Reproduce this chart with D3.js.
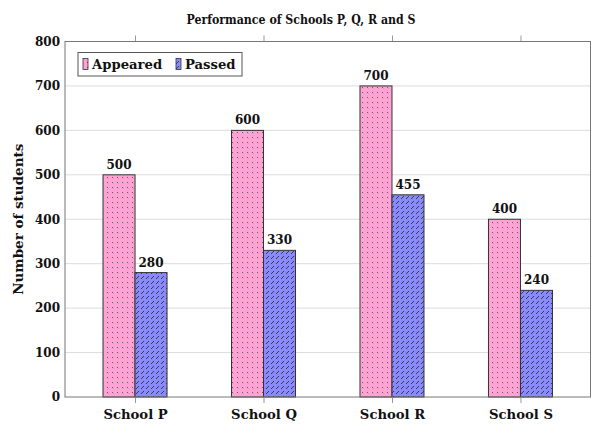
<!DOCTYPE html>
<html>
<head>
<meta charset="utf-8">
<script src="https://cdn.jsdelivr.net/npm/d3@7"></script>
<style>
  html, body { margin: 0; padding: 0; background: #fff; }
  svg { display: block; }
  text { font-family: "DejaVu Serif", serif; font-weight: bold; fill: #111; }
</style>
</head>
<body>
<div id="chart"></div>
<script>
const categories = ["School P", "School Q", "School R", "School S"];
const seriesNames = ["Appeared", "Passed"];
const appeared = [500, 600, 700, 400];
const passed = [280, 330, 455, 240];
const yTicks = [0, 100, 200, 300, 400, 500, 600, 700, 800];

const W = 600, H = 435;
const margin = { left: 65, right: 9.5, top: 41.5, bottom: 38 };

const svg = d3.select("#chart").append("svg").attr("width", W).attr("height", H);

const defs = svg.append("defs");
const p1 = defs.append("pattern").attr("id", "patA").attr("patternUnits", "userSpaceOnUse")
  .attr("width", 5).attr("height", 5);
p1.append("rect").attr("width", 5).attr("height", 5).attr("fill", "#ffa3d4");
p1.append("line").attr("x1", 2).attr("y1", 2).attr("x2", 3.2).attr("y2", 3.2)
  .attr("stroke", "#555").attr("stroke-width", 0.9);
const p2 = defs.append("pattern").attr("id", "patB").attr("patternUnits", "userSpaceOnUse")
  .attr("width", 5).attr("height", 5);
p2.append("rect").attr("width", 5).attr("height", 5).attr("fill", "#8a8aff");
p2.append("line").attr("x1", 1).attr("y1", 4).attr("x2", 4).attr("y2", 1)
  .attr("stroke", "#333").attr("stroke-width", 0.9);

const x = d3.scalePoint().domain(categories)
  .range([margin.left, W - margin.right]).padding(0.545);
const y = d3.scaleLinear().domain([0, 800]).range([H - margin.bottom, margin.top]);
const barW = 32;

svg.append("g").selectAll("line").data(yTicks.filter(d => d > 0 && d < 800)).join("line")
  .attr("x1", margin.left).attr("x2", W - margin.right)
  .attr("y1", d => y(d)).attr("y2", d => y(d))
  .attr("stroke", "#dcdcdc").attr("stroke-width", 1);

const series = [
  { name: seriesNames[0], values: appeared, fill: "url(#patA)", off: -1 },
  { name: seriesNames[1], values: passed, fill: "url(#patB)", off: 0 }
];
series.forEach(s => {
  svg.append("g").selectAll("rect").data(categories).join("rect")
    .attr("x", (c) => x(c) + s.off * barW)
    .attr("y", (c, i) => y(s.values[i]))
    .attr("width", barW)
    .attr("height", (c, i) => y(0) - y(s.values[i]))
    .attr("fill", s.fill)
    .attr("stroke", "#333").attr("stroke-width", 1);
  svg.append("g").selectAll("text").data(categories).join("text")
    .attr("x", (c) => x(c) + s.off * barW + barW / 2)
    .attr("y", (c, i) => y(s.values[i]) - 6)
    .attr("text-anchor", "middle")
    .attr("font-size", 12)
    .text((c, i) => s.values[i]);
});

const yAxis = d3.axisLeft(y).tickValues(yTicks).tickSize(0).tickPadding(5);
const gy = svg.append("g").attr("transform", `translate(${margin.left},0)`).call(yAxis);
gy.select(".domain").remove();
gy.selectAll("text").attr("font-size", 12).attr("font-family", "DejaVu Serif").attr("font-weight", "bold").attr("fill", "#111");

const xAxis = d3.axisBottom(x).tickSize(6).tickPadding(6);
const gx = svg.append("g").attr("transform", `translate(0,${y(0)})`).call(xAxis);
gx.select(".domain").remove();
gx.selectAll("line").attr("stroke", "#999");
gx.selectAll("text").attr("font-size", 13.2).attr("font-family", "DejaVu Serif").attr("font-weight", "bold").attr("fill", "#111")
  .attr("y", 22).attr("dy", 0);

const xAxisTop = d3.axisTop(x).tickSize(6).tickFormat("");
const gxt = svg.append("g").attr("transform", `translate(0,${y(800)})`).call(xAxisTop);
gxt.select(".domain").remove();
gxt.selectAll("line").attr("stroke", "#999");

svg.append("rect").attr("x", margin.left).attr("y", y(800))
  .attr("width", W - margin.right - margin.left).attr("height", y(0) - y(800))
  .attr("fill", "none").attr("stroke", "#777").attr("stroke-width", 1);

svg.append("text").attr("x", 301).attr("y", 23.5)
  .attr("text-anchor", "middle").attr("font-size", 13)
  .attr("textLength", 229).attr("lengthAdjust", "spacingAndGlyphs")
  .text("Performance of Schools P, Q, R and S");

svg.append("text").attr("transform", `translate(23,${(y(0) + y(800)) / 2}) rotate(-90)`)
  .attr("text-anchor", "middle").attr("font-size", 13.5)
  .text("Number of students");

const lg = svg.append("g");
lg.append("rect").attr("x", 78).attr("y", 52.5).attr("width", 164).attr("height", 23.5)
  .attr("fill", "#fff").attr("stroke", "#555").attr("stroke-width", 1);
const legendX = [83, 176];
series.forEach((s, i) => {
  lg.append("rect").attr("x", legendX[i]).attr("y", 58.5).attr("width", 5).attr("height", 11)
    .attr("fill", s.fill).attr("stroke", "#333").attr("stroke-width", 0.8);
  lg.append("text").attr("x", legendX[i] + 9).attr("y", 69).attr("font-size", 13.2)
    .text(s.name);
});
</script>
</body>
</html>
